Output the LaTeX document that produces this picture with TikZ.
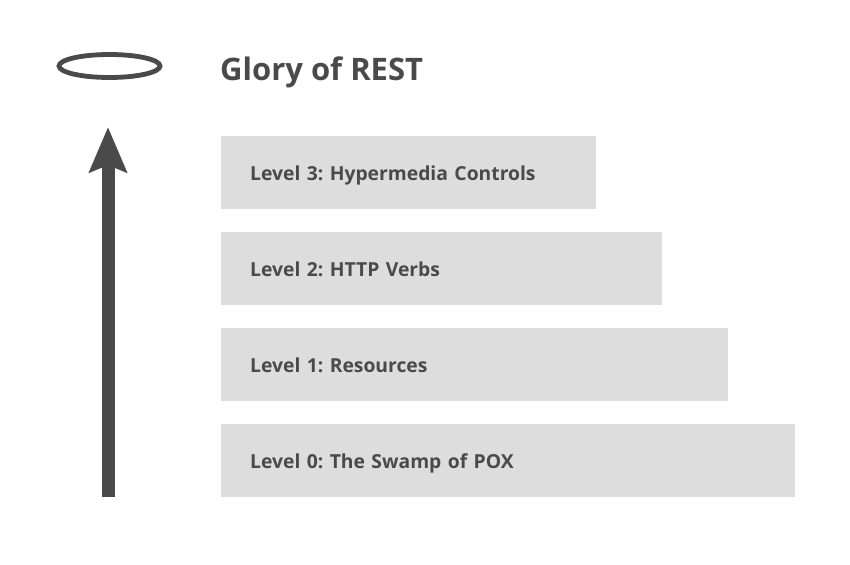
\documentclass[tikz,border=0pt]{standalone}
\usepackage{fontspec}
\setmainfont{Open Sans}
\frenchspacing
\usetikzlibrary{shapes.geometric,arrows.meta}
\definecolor{ink}{HTML}{4A4A4A}
\definecolor{barfill}{HTML}{DDDDDD}
\tikzset{
  levelbar/.style={fill=barfill, draw=none, anchor=west, minimum height=73pt,
    inner xsep=29pt, inner ysep=0pt, align=left, text=ink,
    text height=16.4pt, text depth=0pt,
    font=\fontsize{19.3}{22}\selectfont\bfseries},
  halo/.style={draw=ink, ellipse, line width=4.8pt, minimum width=101pt, minimum height=23pt, inner sep=0pt},
  title/.style={anchor=base west, inner sep=0pt, text=ink, font=\fontsize{31}{36}\selectfont\bfseries},
  uparrow/.style={draw=ink, line width=13pt, -{Stealth[length=45pt, width=37pt, inset=7pt]}}
}
\begin{document}
\begin{tikzpicture}[x=1pt,y=-1pt]
\useasboundingbox (0,0) rectangle (850,564);
\node[halo] (halo) at (109.5,66) {};
\node[title] (title) at (220,80.5) {Glory of REST};
\node[levelbar, text width=317pt] (l3) at (221,172.5) {Level 3: Hypermedia Controls};
\node[levelbar, text width=383pt] (l2) at (221,268.5) {Level 2: HTTP Verbs};
\node[levelbar, text width=449pt] (l1) at (221,364.5) {Level 1: Resources};
\node[levelbar, text width=516pt] (l0) at (221,460.5) {Level 0: The Swamp of POX};
\coordinate (abot) at (108,497);
\coordinate (atop) at (108,127);
\draw[uparrow] (abot) -- (atop);
\end{tikzpicture}
\end{document}
